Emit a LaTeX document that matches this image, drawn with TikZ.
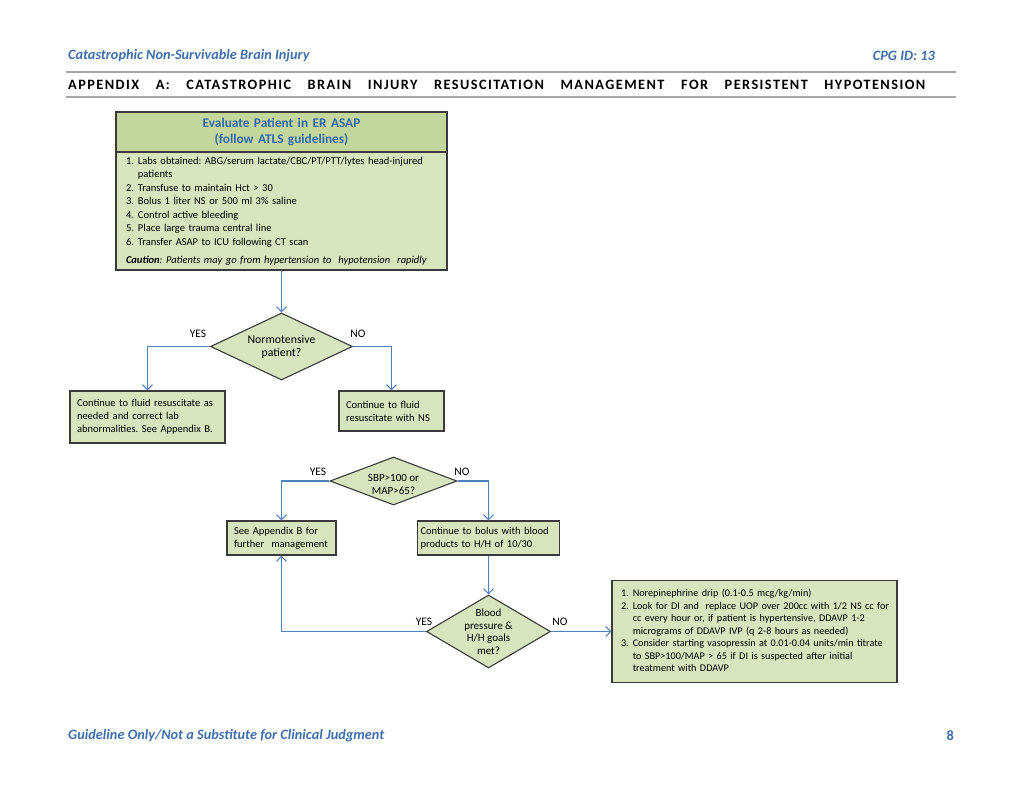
\documentclass[tikz,border=0pt]{standalone}
\usepackage{fontspec}
\setmainfont{Carlito}
\usetikzlibrary{shapes.geometric,arrows.meta}
\definecolor{hdrblue}{HTML}{3F6FAA}
\definecolor{ttlblue}{HTML}{2E68B0}
\definecolor{boxfill}{HTML}{D7E4BD}
\definecolor{ttlfill}{HTML}{C3D69B}
\definecolor{boxline}{HTML}{3A3A3A}
\definecolor{arrblue}{HTML}{4F81BD}
\definecolor{rulegray}{HTML}{A6A6A6}
\frenchspacing
\begin{document}
\begin{tikzpicture}[x=1pt,y=-1pt,
  box/.style={draw=boxline, fill=boxfill, line width=1.1pt, inner ysep=0pt, align=left,
    font=\fontsize{10.5}{13}\selectfont},
  dia/.style={diamond, draw=boxline, fill=boxfill, line width=1.1pt, inner sep=0pt},
  dtext/.style={font=\fontsize{11}{13}\selectfont, align=center, inner sep=0pt},
  flow/.style={draw=arrblue, line width=1.1pt, -{Straight Barb[length=5pt,width=10pt]}},
  lbl/.style={font=\fontsize{11.5}{13}\selectfont, inner sep=0pt},
  hdr/.style={font=\fontsize{14.3}{16}\selectfont\bfseries\itshape, text=hdrblue, inner sep=0pt},
  rulestyle/.style={draw=rulegray, line width=1.2pt},
  ]
\useasboundingbox (0,0) rectangle (1024,791);
\fill[white] (0,0) rectangle (1024,791);

% header
\node[hdr, anchor=west] (hl) at (68,56) {Catastrophic Non-Survivable Brain Injury};
\node[hdr, anchor=east] (hr) at (935,56) {CPG ID: 13};
\draw[rulestyle] (66,72) -- (956,72);
\node[anchor=west, inner sep=0pt, font=\fontsize{14.3}{15}\selectfont\bfseries\addfontfeature{LetterSpace=10}] (title) at (68,84.5)
  {\makebox[857pt][s]{APPENDIX A: CATASTROPHIC BRAIN INJURY RESUSCITATION MANAGEMENT FOR PERSISTENT HYPOTENSION}};
\draw[rulestyle] (66,97) -- (956,97);

% top box
\node[box, text width=311pt, inner xsep=10pt, minimum height=118pt, font=\fontsize{10.5}{13.5}\selectfont] (body) at (281.5,211)
  {\begin{tabular}{@{}l@{\hspace{4pt}}l@{}}
   1. & Labs obtained: ABG/serum lactate/CBC/PT/PTT/lytes head-injured\\
      & patients\\
   2. & Transfuse to maintain Hct > 30\\
   3. & Bolus 1 liter NS or 500 ml 3\% saline\\
   4. & Control active bleeding\\
   5. & Place large trauma central line\\
   6. & Transfer ASAP to ICU following CT scan\\[4.5pt]
   \multicolumn{2}{@{}l@{}}{\textbf{\textit{Caution}}\textit{: Patients may go from hypertension to\ \ hypotension\ \ rapidly}}
   \end{tabular}};
\node[box, fill=ttlfill, text width=311pt, inner xsep=10pt, minimum height=40pt, align=center,
  font=\fontsize{13.3}{16}\selectfont\bfseries, text=ttlblue] (head) at (281.5,132)
  {Evaluate Patient in ER ASAP\\(follow ATLS guidelines)};

% decision 1
\node[dia, minimum width=142pt, minimum height=67pt] (d1) at (281.5,346.5) {};
\node[dtext, font=\fontsize{11.8}{13}\selectfont] (d1t) at (d1.center) {Normotensive\\patient?};
\node[box, text width=141pt, inner xsep=7pt, minimum height=52pt] (lb) at (147.5,417)
  {Continue to fluid resuscitate as\\needed and correct lab\\abnormalities. See Appendix B.};
\node[box, text width=91pt, inner xsep=7pt, minimum height=40pt] (rb) at (391.5,411)
  {Continue to fluid\\resuscitate with NS};
\node[lbl] (y1) at (198,334) {YES};
\node[lbl] (n1) at (358,334) {NO};

% decision 2
\node[dia, minimum width=127pt, minimum height=48pt] (d2) at (393.5,481) {};
\node[dtext, yshift=-3pt] (d2t) at (d2.center) {SBP>100 or\\MAP>65?};
\node[box, text width=95pt, inner xsep=7pt, minimum height=34pt] (lb2) at (281.5,538)
  {See Appendix B for\\further\ \ management};
\node[box, text width=136pt, inner xsep=3pt, minimum height=34pt] (rb2) at (488.5,538)
  {Continue to bolus with blood\\products to H/H of 10/30};
\node[lbl] (y2) at (318,472) {YES};
\node[lbl] (n2) at (462,472) {NO};

% decision 3
\node[dia, minimum width=124pt, minimum height=73pt] (d3) at (488.5,631.5) {};
\node[dtext, font=\fontsize{11}{12.5}\selectfont] (d3t) at (d3.center) {Blood\\pressure \&\\H/H goals\\met?};
\node[box, text width=267pt, inner xsep=9pt, minimum height=102pt, font=\fontsize{10.2}{12.5}\selectfont] (fb) at (754.5,631.5)
  {\begin{tabular}{@{}l@{\hspace{4pt}}l@{}}
   1. & Norepinephrine drip (0.1-0.5 mcg/kg/min)\\
   2. & Look for DI and\ \ replace UOP over 200cc with 1/2 NS cc for\\
      & cc every hour or, if patient is hypertensive, DDAVP 1-2\\
      & micrograms of DDAVP IVP (q 2-8 hours as needed)\\
   3. & Consider starting vasopressin at 0.01-0.04 units/min titrate\\
      & to SBP>100/MAP > 65 if DI is suspected after initial\\
      & treatment with DDAVP
   \end{tabular}};
\node[lbl] (y3) at (424,622) {YES};
\node[lbl] (n3) at (560,622) {NO};

% connectors
\draw[flow] (body.south) -- (d1.north);
\draw[flow] (d1.west) -| (lb.north);
\draw[flow] (d1.east) -| (rb.north);
\draw[flow] (d2.west) -| (lb2.north);
\draw[flow] (d2.east) -| (rb2.north);
\draw[flow] (rb2.south) -- (d3.north);
\draw[flow] (d3.west) -| (lb2.south);
\draw[flow] (d3.east) -- (fb.west);

% footer
\node[hdr, anchor=west] (fl) at (68,736) {Guideline Only/Not a Substitute for Clinical Judgment};
\node[anchor=east, inner sep=0pt, font=\fontsize{14.3}{16}\selectfont\bfseries, text=hdrblue] (fr) at (954,736) {8};
\end{tikzpicture}
\end{document}
